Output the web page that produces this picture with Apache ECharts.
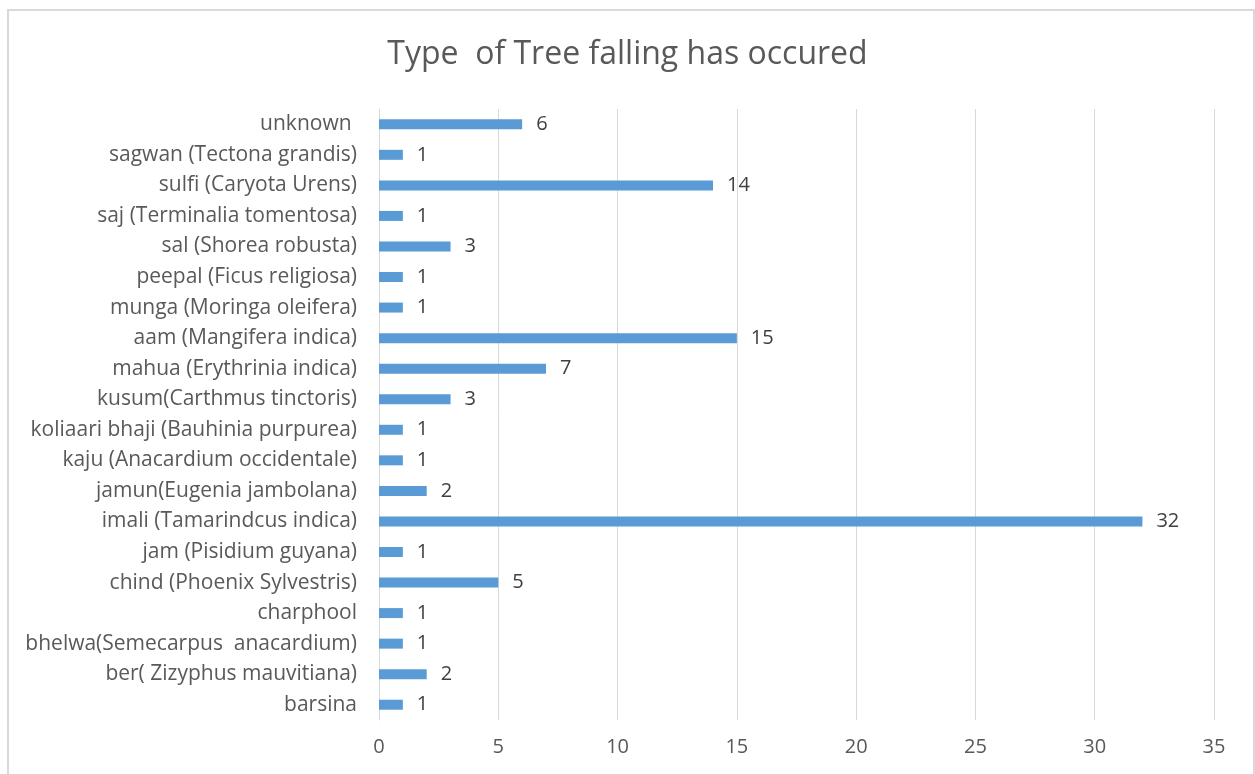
<!DOCTYPE html>
<html>
<head>
<meta charset="utf-8">
<script src="https://cdn.jsdelivr.net/npm/echarts@6/dist/echarts.min.js"></script>
<style>
html,body{margin:0;padding:0;background:#fff;}
#chart{width:1255px;height:774px;}
</style>
</head>
<body>
<div id="chart"></div>
<script>
const titleText = 'Type  of Tree falling has occured';
const categories = [
  'barsina',
  'ber( Zizyphus mauvitiana)',
  'bhelwa(Semecarpus  anacardium)',
  'charphool',
  'chind (Phoenix Sylvestris)',
  'jam (Pisidium guyana)',
  'imali (Tamarindcus indica)',
  'jamun(Eugenia jambolana)',
  'kaju (Anacardium occidentale)',
  'koliaari bhaji (Bauhinia purpurea)',
  'kusum(Carthmus tinctoris)',
  'mahua (Erythrinia indica)',
  'aam (Mangifera indica)',
  'munga (Moringa oleifera)',
  'peepal (Ficus religiosa)',
  'sal (Shorea robusta)',
  'saj (Terminalia tomentosa)',
  'sulfi (Caryota Urens)',
  'sagwan (Tectona grandis)',
  'unknown '
];
const counts = [1, 2, 1, 1, 5, 1, 32, 2, 1, 1, 3, 7, 15, 1, 1, 3, 1, 14, 1, 6];
const xMin = 0, xMax = 35, xStep = 5;

const chart = echarts.init(document.getElementById('chart'), null, {renderer: 'canvas'});
const font = "'Open Sans', 'Noto Sans', sans-serif";
chart.setOption({
  backgroundColor: '#ffffff',
  animation: false,
  textStyle: {fontFamily: font},
  graphic: [{
    type: 'rect',
    shape: {x: 8, y: 10, width: 1246, height: 800},
    style: {fill: 'none', stroke: '#d9d9d9', lineWidth: 2},
    silent: true
  }],
  title: {
    text: titleText,
    left: 'center',
    top: 34,
    textStyle: {fontFamily: font, fontSize: 32, fontWeight: 'normal', color: '#595959'}
  },
  grid: {left: 379, right: 41, top: 109, bottom: 54, containLabel: false},
  xAxis: {
    type: 'value',
    min: xMin, max: xMax, interval: xStep,
    axisLine: {show: false},
    axisTick: {show: false},
    splitLine: {show: true, lineStyle: {color: '#d9d9d9', width: 1}},
    axisLabel: {fontFamily: font, fontSize: 20, color: '#595959', margin: 17}
  },
  yAxis: {
    type: 'category',
    data: categories,
    axisLine: {show: true, lineStyle: {color: '#d9d9d9', width: 1}},
    axisTick: {show: false},
    axisLabel: {fontFamily: font, fontSize: 21, color: '#595959', margin: 22, interval: 0}
  },
  series: [{
    type: 'bar',
    data: counts,
    barWidth: 10,
    itemStyle: {color: '#5b9bd5'},
    label: {show: true, position: 'right', distance: 14, fontFamily: font, fontSize: 20, color: '#404040'}
  }]
});
</script>
</body>
</html>
